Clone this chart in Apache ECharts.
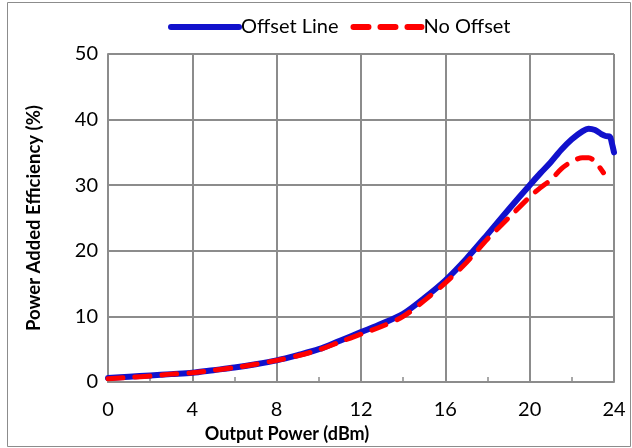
<!DOCTYPE html>
<html>
<head>
<meta charset="utf-8">
<script src="https://cdn.jsdelivr.net/npm/echarts@6/dist/echarts.min.js"></script>
<style>
  html, body { margin: 0; padding: 0; background: #fff; }
  #chart { width: 632px; height: 448px; }
</style>
</head>
<body>
<div id="chart"></div>
<script>
// Output power (dBm) sample points and efficiency (%) for each bias setup
const offsetX = [0, 1, 2, 3, 4, 5, 6, 7, 8, 9, 10, 11, 12, 13, 14, 15, 16, 17, 18, 19, 20, 20.5, 21, 21.5, 22, 22.5, 22.8, 23.1, 23.4, 23.6, 23.8, 23.9, 24];
const offsetPAE = [0.6, 0.8, 1.0, 1.2, 1.4, 1.8, 2.2, 2.7, 3.3, 4.1, 5.0, 6.3, 7.6, 8.9, 10.4, 12.8, 15.5, 18.8, 22.5, 26.3, 30.0, 31.8, 33.5, 35.4, 37.0, 38.2, 38.6, 38.4, 37.8, 37.5, 37.4, 36.4, 35.0];
const noOffsetX = [0, 1, 2, 3, 4, 5, 6, 7, 8, 9, 10, 11, 12, 13, 14, 15, 16, 17, 18, 19, 20, 20.5, 21, 21.5, 22, 22.5, 22.8, 23.1, 23.3, 23.5];
const noOffsetPAE = [0.5, 0.7, 0.9, 1.2, 1.4, 1.8, 2.2, 2.7, 3.3, 4.0, 4.9, 6.1, 7.3, 8.5, 10.0, 12.4, 15.1, 18.2, 21.8, 25.0, 28.2, 29.6, 30.8, 32.5, 33.6, 34.2, 34.2, 33.6, 32.8, 31.9];
const seriesNames = ['Offset Line', 'No Offset'];

const pairs = (xs, ys) => xs.map((x, i) => [x, ys[i]]);

const chart = echarts.init(document.getElementById('chart'));
const font = 'Lato, "Open Sans", sans-serif';
const gridColor = '#8c8c8c';
const blue = '#1111cc';
const red = '#ff0000';
const redDash = [15, 12];

chart.setOption({
  animation: false,
  backgroundColor: '#fff',
  textStyle: { fontFamily: font },
  graphic: [{
    type: 'rect',
    shape: { x: 7.5, y: 2.5, width: 623, height: 444 },
    style: { fill: 'none', stroke: '#8c8c8c', lineWidth: 1 },
    silent: true
  }],
  legend: {
    top: 12,
    left: 163,
    itemWidth: 68,
    itemHeight: 10,
    itemGap: 12,
    textStyle: { fontSize: 20, color: '#000', fontFamily: font, padding: [0, 0, 0, -3] },
    data: [
      { name: seriesNames[0], itemStyle: { opacity: 0 }, lineStyle: { color: blue, width: 6, cap: 'round' } },
      { name: seriesNames[1], itemStyle: { opacity: 0 }, lineStyle: { color: red, width: 6, type: redDash, cap: 'round' } }
    ]
  },
  grid: { left: 108, right: 18, top: 54, bottom: 66, containLabel: false },
  xAxis: {
    type: 'value',
    min: 0, max: 24, interval: 4,
    name: 'Output Power (dBm)',
    nameLocation: 'middle',
    nameGap: 40,
    nameTextStyle: { fontSize: 18, fontWeight: 'bold', color: '#000', fontFamily: font, padding: [0, 148, 0, 0] },
    axisLine: { show: true, lineStyle: { color: gridColor, width: 2 } },
    axisTick: { show: true, inside: true, length: 5, lineStyle: { color: gridColor, width: 1.5 } },
    minorTick: { show: true, splitNumber: 2, length: 5, lineStyle: { color: gridColor, width: 1.5 } },
    axisLabel: { fontSize: 20, color: '#000', margin: 18, fontFamily: font },
    splitLine: { show: true, lineStyle: { color: gridColor, width: 2 } }
  },
  yAxis: {
    type: 'value',
    min: 0, max: 50, interval: 10,
    name: 'Power Added Efficiency (%)',
    nameLocation: 'middle',
    nameGap: 64,
    nameTextStyle: { fontSize: 18.5, fontWeight: 'bold', color: '#000', fontFamily: font },
    axisLine: { show: true, lineStyle: { color: gridColor, width: 2 } },
    axisTick: { show: false },
    axisLabel: { fontSize: 20, color: '#000', margin: 10, fontFamily: font },
    splitLine: { show: true, lineStyle: { color: gridColor, width: 2 } }
  },
  series: [
    {
      name: seriesNames[0],
      type: 'line',
      data: pairs(offsetX, offsetPAE),
      smooth: 0.3,
      symbol: 'none',
      color: blue,
      lineStyle: { color: blue, width: 6, cap: 'round', join: 'round' },
      z: 2
    },
    {
      name: seriesNames[1],
      type: 'line',
      data: pairs(noOffsetX, noOffsetPAE),
      smooth: 0.3,
      symbol: 'none',
      color: red,
      lineStyle: { color: red, width: 5, type: redDash, cap: 'round', join: 'round' },
      z: 3
    }
  ]
});
</script>
</body>
</html>
